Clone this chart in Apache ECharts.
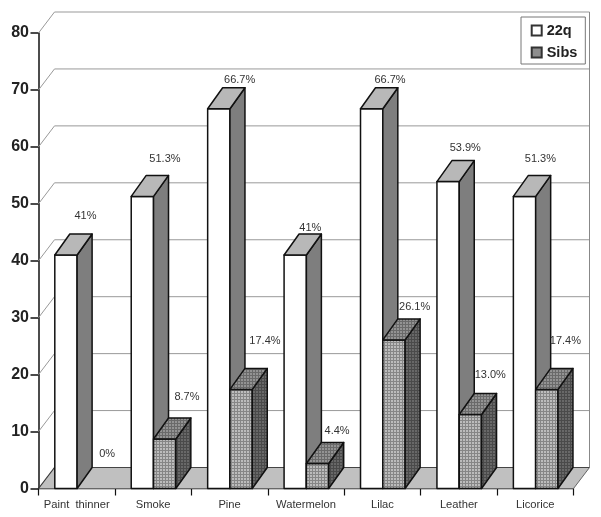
<!DOCTYPE html>
<html>
<head>
<meta charset="utf-8">
<style>html,body{margin:0;padding:0;background:#fff}#c{width:601px;height:517px}</style>
<script src="https://cdn.jsdelivr.net/npm/echarts@6/dist/echarts.min.js"></script>
</head>
<body>
<div id="c"></div>
<script>
const categories = ['Paint  thinner','Smoke','Pine','Watermelon','Lilac','Leather','Licorice'];
const values22q = [41, 51.3, 66.7, 41, 66.7, 53.9, 51.3];
const valuesSibs = [0, 8.7, 17.4, 4.4, 26.1, 13.0, 17.4];
const labels22q = ['41%','51.3%','66.7%','41%','66.7%','53.9%','51.3%'];
const labelsSibs = ['0%','8.7%','17.4%','4.4%','26.1%','13.0%','17.4%'];
const valueTicks = [10,20,30,40,50,60,70,80];

// label placement relative to the bar's front-top-left corner
const offs22q = [[30.7,-39],[33.7,-37],[32,-29],[26.2,-27.5],[29.5,-29],[28.3,-33.5],[27,-37]];
const offsSibs = [[30,-35],[33.4,-42],[35,-48.5],[30.7,-32],[31.8,-33],[31,-39.5],[29.7,-48.5]];

const WALL_DX = 16, WALL_DY = -21, BAR_DX = 15, BAR_DY = -21, BAR_W = 22.3, BAR_OFF = 16.3;
const FONT = '"Liberation Sans", Arial, sans-serif';

function tile(light, dark) {
  const c = document.createElement('canvas');
  c.width = 3; c.height = 3;
  const g = c.getContext('2d');
  g.fillStyle = light; g.fillRect(0,0,3,3);
  g.fillStyle = dark; g.fillRect(0,0,3,1); g.fillRect(0,0,1,3);
  return c;
}
const sibsFront = {image: tile('#bcbcbc','#868686'), repeat:'repeat'};
const sibsTop = {image: tile('#939393','#6a6a6a'), repeat:'repeat'};
const sibsSide = {image: tile('#686868','#4a4a4a'), repeat:'repeat'};

function poly(points, fill, stroke, lw) {
  return {type:'polygon', shape:{points}, style:{fill, stroke, lineWidth:lw, lineJoin:'round'}};
}
function barRender(offsetBars, faces, labels, offs) {
  return function(params, api) {
    const i = api.value(0), v = api.value(1);
    const base = api.coord([i, 0]), top = api.coord([i, v]);
    const band = api.size([1, 0])[0];
    const x0 = base[0] - band/2 + BAR_OFF + offsetBars*BAR_W, x1 = x0 + BAR_W;
    const y0 = base[1], y1 = top[1];
    const children = [];
    if (v > 0) {
      children.push(poly([[x0,y0],[x1,y0],[x1,y1],[x0,y1]], faces[0], '#111', 1.5));
      children.push(poly([[x1,y0],[x1+BAR_DX,y0+BAR_DY],[x1+BAR_DX,y1+BAR_DY],[x1,y1]], faces[2], '#111', 1.5));
      children.push(poly([[x0,y1],[x1,y1],[x1+BAR_DX,y1+BAR_DY],[x0+BAR_DX,y1+BAR_DY]], faces[1], '#111', 1.5));
    }
    const o = offs[i];
    children.push({type:'text', style:{text:labels[i], x:x0+o[0], y:y1+o[1], align:'center', verticalAlign:'middle',
      fill:'#333', font:'11px '+FONT}});
    return {type:'group', children};
  };
}
function wallRender(params, api) {
  const v = api.value(1);
  const p = api.coord([0, v]);
  const band = api.size([1, 0])[0];
  const xL = p[0] - band/2, xR = api.coord([categories.length-1, v])[0] + band/2;
  return {type:'polyline', shape:{points:[[xL,p[1]],[xL+WALL_DX,p[1]+WALL_DY],[xR+WALL_DX,p[1]+WALL_DY]]},
    style:{fill:'none', stroke:'#999', lineWidth:1}};
}
function floorRender(params, api) {
  const band = api.size([1, 0])[0];
  const n = categories.length;
  const a = api.coord([n-1, valueTicks[valueTicks.length-1]]), b = api.coord([n-1, 0]);
  const xR = b[0] + band/2, xL = api.coord([0,0])[0] - band/2;
  const yB = b[1] + WALL_DY;
  return {type:'group', children:[
    {type:'line', shape:{x1:xR+WALL_DX,y1:a[1]+WALL_DY,x2:xR+WALL_DX,y2:yB}, style:{stroke:'#888', lineWidth:1}},
    poly([[xL,b[1]],[xR,b[1]],[xR+WALL_DX,yB],[xL+WALL_DX,yB]], '#c0c0c0', 'none', 0),
    {type:'line', shape:{x1:xL+WALL_DX,y1:yB,x2:xR+WALL_DX,y2:yB}, style:{stroke:'#444', lineWidth:1.2}},
    {type:'line', shape:{x1:xL,y1:b[1],x2:xL+WALL_DX,y2:yB}, style:{stroke:'#333', lineWidth:1.2}},
    {type:'line', shape:{x1:xR,y1:b[1],x2:xR+WALL_DX,y2:yB}, style:{stroke:'#666', lineWidth:1}}
  ]};
}

const chart = echarts.init(document.getElementById('c'), null, {renderer:'canvas'});
chart.setOption({
  animation:false,
  backgroundColor:'#fff',
  grid:{left:38.5, right:27.5, top:33, bottom:28.5, containLabel:false},
  legend:{
    orient:'vertical', left:521, top:17,
    data:['22q','Sibs'], icon:'rect', itemWidth:10, itemHeight:10, itemGap:7,
    padding:[6,8,4,9.7], backgroundColor:'#fff', borderColor:'#777', borderWidth:1,
    selectedMode:false, z:20,
    textStyle:{fontFamily:FONT, fontWeight:'bold', fontSize:14.5, color:'#222'}
  },
  xAxis:{
    type:'category', data:categories,
    axisLine:{lineStyle:{color:'#111', width:1.3}},
    axisTick:{show:true, length:7, alignWithLabel:false, lineStyle:{color:'#111', width:1.2}},
    axisLabel:{fontFamily:FONT, fontSize:11.2, color:'#333', margin:11, interval:0},
    splitLine:{show:false}
  },
  yAxis:{
    type:'value', min:0, max:80, interval:10,
    axisLine:{show:true, lineStyle:{color:'#111', width:1.5}},
    axisTick:{show:true, length:8, lineStyle:{color:'#111', width:1.5}},
    axisLabel:{fontFamily:FONT, fontSize:16, fontWeight:'bold', color:'#222', margin:9.5},
    splitLine:{show:false}
  },
  series:[
    {name:'walls', type:'custom', clip:false, silent:true, renderItem:wallRender,
     encode:{x:0,y:1}, data:valueTicks.map(v=>[0,v]), z:1},
    {name:'floor', type:'custom', clip:false, silent:true, renderItem:floorRender,
     encode:{x:0,y:1}, data:[[0,0]], z:1},
    {name:'22q', type:'custom', clip:false, renderItem:barRender(0,['#fff','#b8b8b8','#7e7e7e'],labels22q,offs22q),
     encode:{x:0,y:1}, data:values22q.map((v,i)=>[i,v]), z:2,
     itemStyle:{color:'#fff', borderColor:'#333', borderWidth:1.2}},
    {name:'Sibs', type:'custom', clip:false, renderItem:barRender(1,[sibsFront,sibsTop,sibsSide],labelsSibs,offsSibs),
     encode:{x:0,y:1}, data:valuesSibs.map((v,i)=>[i,v]), z:3,
     itemStyle:{color:'#8e8e8e', borderColor:'#333', borderWidth:1.2}}
  ]
});
</script>
</body>
</html>
